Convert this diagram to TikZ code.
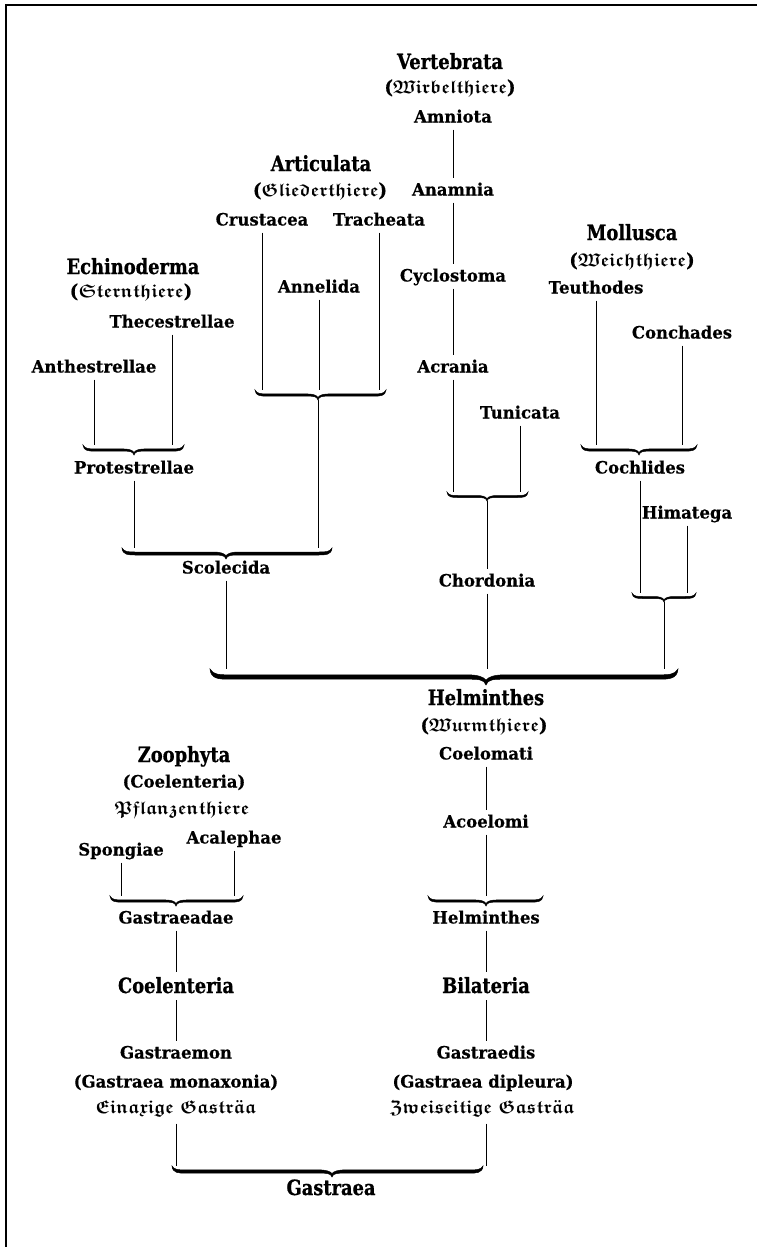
\documentclass[tikz,border=0pt]{standalone}
\usepackage{fontspec}
\usepackage{amsfonts}
\setmainfont{DejaVu Serif}
\newfontfamily\labfont{DejaVu Serif}[FakeStretch=0.97,FakeBold=0.5]
\newfontfamily\ttlfont{DejaVu Serif}[FakeStretch=0.85,FakeBold=0.8]
\newcommand\fk[1]{\ensuremath{\mathfrak{#1}}}
% tapered curly brace, tip downwards: #1 left x, #2 right x, #3 tip x, #4 top y, #5 depth, #6 half thickness
\newcommand\tbrace[6]{%
  \filldraw[line width=0.5pt] (#1,#4)
   .. controls ({#1+0.2*#5},{#4+0.5*#5-#6}) and ({#1+0.6*#5},{#4+0.5*#5-#6}) .. ({#1+1.2*#5},{#4+0.5*#5-#6})
   -- ({#3-1.2*#5},{#4+0.5*#5-#6})
   .. controls ({#3-0.5*#5},{#4+0.5*#5-#6}) and ({#3-0.15*#5},{#4+0.5*#5}) .. (#3,{#4+#5-2.2*#6})
   .. controls ({#3+0.15*#5},{#4+0.5*#5}) and ({#3+0.5*#5},{#4+0.5*#5-#6}) .. ({#3+1.2*#5},{#4+0.5*#5-#6})
   -- ({#2-1.2*#5},{#4+0.5*#5-#6})
   .. controls ({#2-0.6*#5},{#4+0.5*#5-#6}) and ({#2-0.2*#5},{#4+0.5*#5-#6}) .. (#2,#4)
   .. controls ({#2-0.05*#5},{#4+0.5*#5+#6}) and ({#2-0.6*#5},{#4+0.5*#5+#6}) .. ({#2-1.2*#5},{#4+0.5*#5+#6})
   -- ({#3+1.2*#5},{#4+0.5*#5+#6})
   .. controls ({#3+0.5*#5},{#4+0.5*#5+#6}) and ({#3+0.1*#5},{#4+0.5*#5+#6}) .. (#3,{#4+#5})
   .. controls ({#3-0.1*#5},{#4+0.5*#5+#6}) and ({#3-0.5*#5},{#4+0.5*#5+#6}) .. ({#3-1.2*#5},{#4+0.5*#5+#6})
   -- ({#1+1.2*#5},{#4+0.5*#5+#6})
   .. controls ({#1+0.6*#5},{#4+0.5*#5+#6}) and ({#1+0.05*#5},{#4+0.5*#5+#6}) .. (#1,#4) -- cycle;}
\begin{document}
\begin{tikzpicture}[x=1pt,y=-1pt,
  lab/.style={font=\labfont\bfseries\fontsize{17}{18}\selectfont, inner sep=1pt, outer sep=5pt, text height=12pt, text depth=1pt},
  ttl/.style={font=\ttlfont\bfseries\fontsize{21}{22}\selectfont, inner sep=1pt, outer sep=5pt, text height=15pt, text depth=1pt},
  frk/.style={font=\labfont\bfseries\fontsize{18.5}{20}\selectfont\boldmath, inner sep=1pt, outer sep=5pt, text height=13pt, text depth=4pt},
  conn/.style={line width=1pt}]
\fill[white] (0,0) rectangle (757,1247);
\useasboundingbox (0,0) rectangle (757,1247);
\draw[line width=1.6pt] (6,1247) -- (6,5) -- (757,5);

% brace levels
\coordinate (yA) at (0,390);
\coordinate (yE) at (0,445);
\coordinate (yS) at (0,548);
\coordinate (yCh) at (0,492);
\coordinate (yH) at (0,593);
\coordinate (yBig) at (0,669);
\coordinate (yLow) at (0,896);
\coordinate (yG) at (0,1166);

% Vertebrata
\node[ttl] (vert) at (450,62) {Vertebrata};
\node[frk] (wirb) at (450,89) {(\fk{Wirbelthiere})};
\node[lab] (amni) at (453,117) {Amniota};
\node[lab] (anam) at (453,190) {Anamnia};
\node[lab] (cycl) at (453,276) {Cyclostoma};
\node[lab] (acra) at (453,367) {Acrania};
\node[lab] (tuni) at (520,413) {Tunicata};
\node[lab] (chor) at (487,581) {Chordonia};
\draw[conn] (amni) -- (anam);
\draw[conn] (anam) -- (cycl);
\draw[conn] (cycl) -- (acra);
\draw[conn] (acra) -- (acra |- yCh);
\draw[conn] (tuni) -- (tuni |- yCh);
\tbrace{447}{528}{487}{492}{9}{1}
\coordinate (tCh) at (487,501);
\draw[conn] (tCh) -- (chor);
\draw[conn] (chor) -- (chor |- yBig);

% Articulata
\node[ttl] (arti) at (321,164) {Articulata};
\node[frk] (glie) at (320,192) {(\fk{Gliederthiere})};
\node[lab] (crus) at (262,220) {Crustacea};
\node[lab] (trac) at (379,220) {Tracheata};
\node[lab] (anne) at (319,287) {Annelida};
\draw[conn] (crus) -- (crus |- yA);
\draw[conn] (trac) -- (trac |- yA);
\draw[conn] (anne) -- (anne |- yA);
\tbrace{255}{386}{318}{390}{10}{1.1}
\coordinate (tA) at (318,400);
\draw[conn] (tA) -- (tA |- yS);

% Echinoderma
\node[ttl] (echi) at (133,267) {Echinoderma};
\node[frk] (ster) at (131,293) {(\fk{Sternthiere})};
\node[lab] (thec) at (172,322) {Thecestrellae};
\node[lab] (anth) at (94,367) {Anthestrellae};
\node[lab] (prot) at (134,468) {Protestrellae};
\draw[conn] (thec) -- (thec |- yE);
\draw[conn] (anth) -- (anth |- yE);
\tbrace{83}{184}{134}{445}{10}{1.1}
\draw[conn] (prot) -- (prot |- yS);
\tbrace{122}{332}{226}{548}{11}{1.5}
\node[lab] (scol) at (226,568) {Scolecida};
\draw[conn] (scol) -- (scol |- yBig);

% Mollusca
\node[ttl] (moll) at (632,233) {Mollusca};
\node[frk] (weic) at (632,262) {(\fk{Weichthiere})};
\node[lab] (teut) at (596,288) {Teuthodes};
\node[lab] (conc) at (682,333) {Conchades};
\node[lab] (coch) at (640,468) {Cochlides};
\node[lab] (hima) at (687,513) {Himatega};
\draw[conn] (teut) -- (teut |- yE);
\draw[conn] (conc) -- (conc |- yE);
\tbrace{581}{697}{639}{445}{10}{1.1}
\draw[conn] (coch) -- (coch |- yH);
\draw[conn] (hima) -- (hima |- yH);
\tbrace{632}{696}{664}{593}{9}{1}
\coordinate (tH) at (664,602);
\draw[conn] (tH) -- (tH |- yBig);

% big brace
\tbrace{210}{678}{486}{669}{16}{2.2}

% Helminthes
\node[ttl] (helm) at (486,698) {Helminthes};
\node[frk] (wurm) at (484,727) {(\fk{Wurmthiere})};
\node[lab] (coel) at (486,754) {Coelomati};
\node[lab] (acoe) at (486,822) {Acoelomi};
\draw[conn] (coel) -- (acoe);
\draw[conn] (acoe) -- (acoe |- yLow);
\tbrace{428}{543}{486}{896}{10}{1.1}
\node[lab] (hel2) at (486,918) {Helminthes};
\node[ttl] (bila) at (486,986) {Bilateria};
\node[lab] (gdis) at (486,1053) {Gastraedis};
\node[lab] (gdip) at (483,1082) {(Gastraea dipleura)};
\node[frk] (zwei) at (482,1109) {\ensuremath{\mathfrak{Zweiseitige\ Gastr}\ddot{\mathfrak{a}}\mathfrak{a}}};
\draw[conn] (hel2) -- (bila);
\draw[conn] (bila) -- (gdis);
\draw[conn] (gdis |- zwei.south) -- (gdis |- yG);

% Zoophyta
\node[ttl] (zoop) at (184,755) {Zoophyta};
\node[lab] (coe2) at (184,782) {(Coelenteria)};
\node[frk] (pfla) at (182,810) {\fk{Pflanzenthiere}};
\node[lab] (acal) at (234,838) {Acalephae};
\node[lab] (spon) at (121,850) {Spongiae};
\draw[conn] (acal) -- (acal |- yLow);
\draw[conn] (spon) -- (spon |- yLow);
\tbrace{110}{243}{176}{896}{10}{1.1}
\node[lab] (gade) at (176,918) {Gastraeadae};
\node[ttl] (coe3) at (176,986) {Coelenteria};
\node[lab] (gmon) at (176,1053) {Gastraemon};
\node[lab] (gmox) at (176,1082) {(Gastraea monaxonia)};
\node[frk] (eina) at (176,1109) {\ensuremath{\mathfrak{Einaxige\ Gastr}\ddot{\mathfrak{a}}\mathfrak{a}}};
\draw[conn] (gade) -- (coe3);
\draw[conn] (coe3) -- (gmon);
\draw[conn] (eina) -- (eina |- yG);

\tbrace{172}{483}{332}{1166}{11}{1.6}
\node[ttl] (gast) at (331,1188) {Gastraea};
\end{tikzpicture}
\end{document}
